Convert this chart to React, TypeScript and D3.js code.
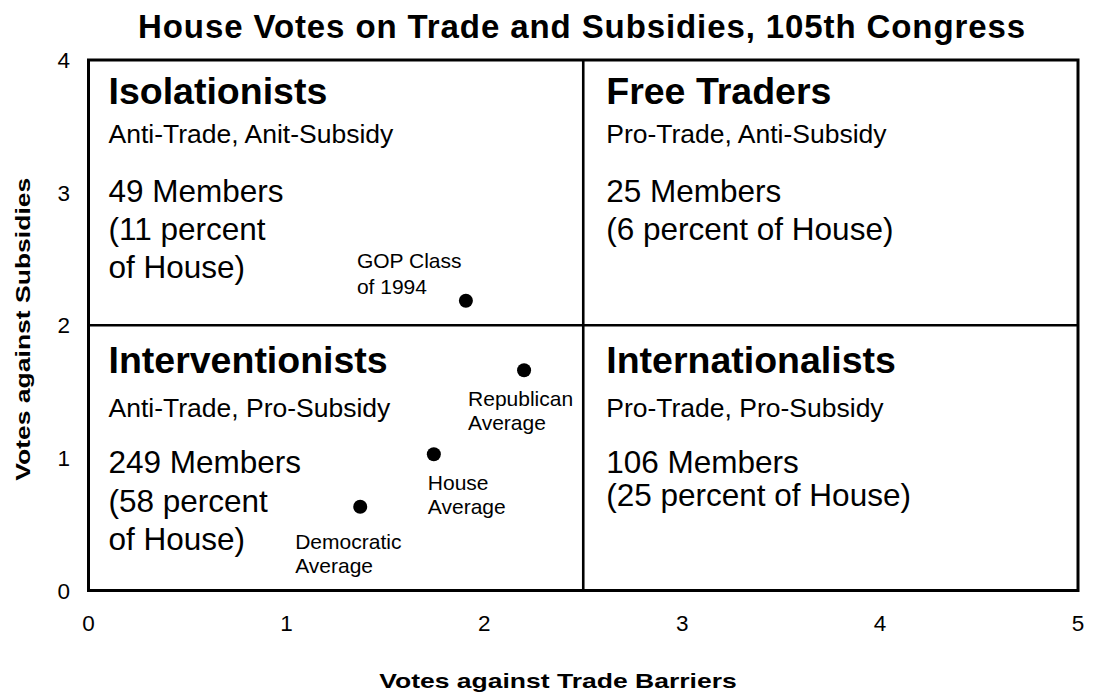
import React from "react";
import * as d3 from "d3";

// ---- data ----
const chartTitle = "House Votes on Trade and Subsidies, 105th Congress";
const xAxisTitle = "Votes against Trade Barriers";
const yAxisTitle = "Votes against Subsidies";
const xTicks = [0, 1, 2, 3, 4, 5];
const yTicks = [0, 1, 2, 3, 4];
const xSplit = 2.5;
const ySplit = 2;

const quadrantNames = ["Isolationists", "Free Traders", "Interventionists", "Internationalists"];
const quadrantSubtitles = [
  "Anti-Trade, Anit-Subsidy",
  "Pro-Trade, Anti-Subsidy",
  "Anti-Trade, Pro-Subsidy",
  "Pro-Trade, Pro-Subsidy",
];
const quadrantMembers = [
  ["49 Members", "(11 percent", "of House)"],
  ["25 Members", "(6 percent of House)"],
  ["249 Members", "(58 percent", "of House)"],
  ["106 Members", "(25 percent of House)"],
];

const pointLabels = [
  ["GOP Class", "of 1994"],
  ["Republican", "Average"],
  ["House", "Average"],
  ["Democratic", "Average"],
];
const pointX = [1.907, 2.201, 1.745, 1.373];
const pointY = [2.185, 1.661, 1.027, 0.632];

// ---- layout ----
const W = 1094;
const H = 696;
const FONT = "'Liberation Sans', Arial, Helvetica, sans-serif";

const labelOffsets = [
  { dx: -109, dy: -33, lh: 26 },
  { dx: -56, dy: 36, lh: 24 },
  { dx: -6, dy: 36, lh: 24 },
  { dx: -65, dy: 42, lh: 24 },
];

const quadLayout = [
  { col: 0, row: 0, head: 44, sub: 83, mem: 141.5, lh: 38 },
  { col: 1, row: 0, head: 44, sub: 83, mem: 141.5, lh: 38 },
  { col: 0, row: 1, head: 48, sub: 92, mem: 148, lh: 38.5 },
  { col: 1, row: 1, head: 48, sub: 92, mem: 148, lh: 33 },
];

export default function App() {
  const x = d3.scaleLinear().domain([0, 5]).range([88.5, 1078]);
  const y = d3.scaleLinear().domain([0, 4]).range([590.5, 60]);

  const colLeft = [x(0) + 20, x(xSplit) + 23];
  const rowTop = [y(4), y(ySplit)];
  const plotMidY = (y(0) + y(4)) / 2;

  return (
    <svg
      width={W}
      height={H}
      style={{ position: "absolute", left: 0, top: 0, background: "#fff" }}
      fontFamily={FONT}
    >
      <rect x={0} y={0} width={W} height={H} fill="#fff" />
      {/* title */}
      <text
        x={582}
        y={38}
        textAnchor="middle"
        fontSize={33}
        fontWeight="bold"
        letterSpacing={0.9}
        fill="#000"
      >
        {chartTitle}
      </text>

      {/* frame and dividers */}
      <rect
        x={x(0)}
        y={y(4)}
        width={x(5) - x(0)}
        height={y(0) - y(4)}
        fill="none"
        stroke="#000"
        strokeWidth={3}
      />
      <line x1={x(xSplit)} x2={x(xSplit)} y1={y(4)} y2={y(0)} stroke="#000" strokeWidth={2.6} />
      <line x1={x(0)} x2={x(5)} y1={y(ySplit)} y2={y(ySplit)} stroke="#000" strokeWidth={2.6} />

      {/* x ticks */}
      {xTicks.map((t) => (
        <text key={"xt" + t} x={x(t)} y={631} textAnchor="middle" fontSize={22.5} fill="#000">
          {t}
        </text>
      ))}
      {/* y ticks */}
      {yTicks.map((t) => (
        <text
          key={"yt" + t}
          x={70}
          y={y(t)}
          dy="0.36em"
          textAnchor="end"
          fontSize={22.5}
          fill="#000"
        >
          {t}
        </text>
      ))}

      {/* axis titles (stretched along the text direction, as in the reference) */}
      <text
        transform={`translate(558, 688) scale(1.36, 1)`}
        textAnchor="middle"
        fontSize={19.5}
        fontWeight="bold"
        fill="#000"
      >
        {xAxisTitle}
      </text>
      <text
        transform={`translate(30, ${plotMidY + 4}) rotate(-90) scale(1.36, 1)`}
        textAnchor="middle"
        fontSize={19.5}
        fontWeight="bold"
        fill="#000"
      >
        {yAxisTitle}
      </text>

      {/* quadrant text */}
      {quadLayout.map((q, i) => {
        const lx = colLeft[q.col];
        const top = rowTop[q.row];
        return (
          <g key={"q" + i} fill="#000">
            <text x={lx} y={top + q.head} fontSize={37.5} fontWeight="bold">
              {quadrantNames[i]}
            </text>
            <text x={lx} y={top + q.sub} fontSize={26.5}>
              {quadrantSubtitles[i]}
            </text>
            {quadrantMembers[i].map((line, j) => (
              <text key={j} x={lx} y={top + q.mem + j * q.lh} fontSize={31.5}>
                {line}
              </text>
            ))}
          </g>
        );
      })}

      {/* points */}
      {pointX.map((px, i) => {
        const cx = x(px);
        const cy = y(pointY[i]);
        const o = labelOffsets[i];
        return (
          <g key={"p" + i}>
            <circle cx={cx} cy={cy} r={7} fill="#000" />
            {pointLabels[i].map((line, j) => (
              <text key={j} x={cx + o.dx} y={cy + o.dy + j * o.lh} fontSize={21} fill="#000">
                {line}
              </text>
            ))}
          </g>
        );
      })}
    </svg>
  );
}
